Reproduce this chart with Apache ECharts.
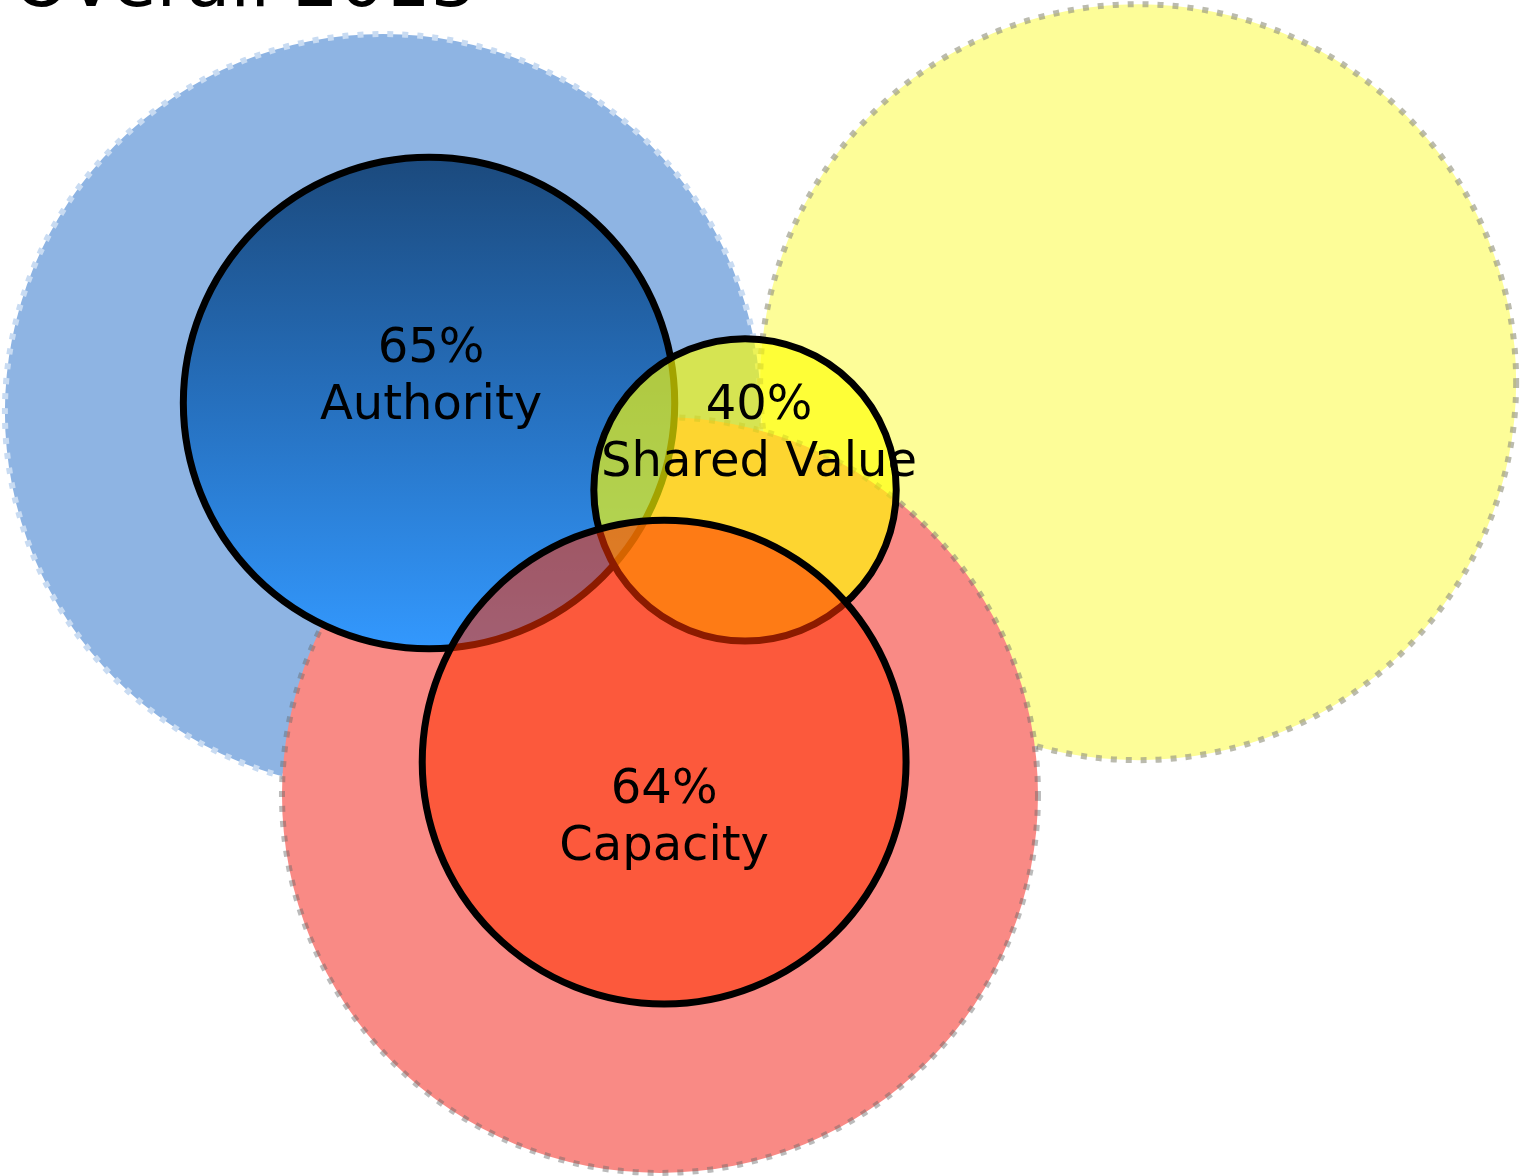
<!DOCTYPE html>
<html>
<head>
<meta charset="utf-8">
<script src="https://cdn.jsdelivr.net/npm/echarts@6/dist/echarts.min.js"></script>
<style>
  html, body { margin: 0; padding: 0; background: #ffffff; }
  #chart { width: 1521px; height: 1176px; }
</style>
</head>
<body>
<div id="chart"></div>
<script>
// Sizes are in percent: a circle's radius equals its score, the full group is 100.
const groups = ['Authority', 'Shared Value', 'Capacity'];
const scores = [65, 40, 64];
const groupCenterX = [113.5, 197.1, 175.7];
const groupCenterY = [106.6, 129.6, 201.6];

// Full-scale (100%) backdrop circles: blue, yellow, red
const backdropNames = ['Authority', 'Shared Value', 'Capacity'];
const backdropRadius = [100, 100, 100];
const backdropCenterX = [101.3, 301.1, 174.6];
const backdropCenterY = [109.0, 101.1, 210.3];

const titleText = 'Overall 2013';

// pixels per percent unit
const UNIT = 3.78;
const W = 1521, H = 1176;

const backdropStyles = [
  { fill: '#8EB4E3', stroke: '#C8DBF2' },
  { fill: '#FDFD98', stroke: 'rgba(150,150,130,0.65)' },
  { fill: '#F98A85', stroke: 'rgba(105,105,105,0.45)' }
];

const groupFills = [
  new echarts.graphic.LinearGradient(0, 0, 0, 1, [
    { offset: 0, color: '#1B497C' },
    { offset: 0.5, color: '#2670BE' },
    { offset: 1, color: '#3399FF' }
  ]),
  'rgba(255,255,0,0.64)',
  'rgba(255,50,0,0.55)'
];
// label block offsets from each circle centre, px
const labelShift = [[2, -25], [14, -55], [0, 57]];

const backdropData = backdropRadius.map((r, i) => [backdropCenterX[i], backdropCenterY[i], r]);
const groupData = scores.map((s, i) => [groupCenterX[i], groupCenterY[i], s]);

function renderBackdrop(params, api) {
  const i = params.dataIndex;
  const c = api.coord([api.value(0), api.value(1)]);
  const r = api.size([api.value(2), 0])[0];
  return {
    type: 'circle',
    shape: { cx: c[0], cy: c[1], r: r },
    style: {
      fill: backdropStyles[i].fill,
      stroke: backdropStyles[i].stroke,
      lineWidth: 6,
      lineDash: [6, 9]
    }
  };
}

function renderGroup(params, api) {
  const i = params.dataIndex;
  const c = api.coord([api.value(0), api.value(1)]);
  const r = api.size([api.value(2), 0])[0];
  return {
    type: 'group',
    children: [
      {
        type: 'circle',
        shape: { cx: c[0], cy: c[1], r: r },
        style: { fill: groupFills[i], stroke: '#000000', lineWidth: 7 }
      },
      {
        type: 'text',
        x: c[0] + labelShift[i][0],
        y: c[1] + labelShift[i][1],
        style: {
          text: api.value(2) + '%\n' + groups[i],
          fill: '#000000',
          fontFamily: 'DejaVu Sans',
          fontSize: 48,
          lineHeight: 57,
          align: 'center',
          verticalAlign: 'middle'
        }
      }
    ]
  };
}

const chart = echarts.init(document.getElementById('chart'), null, { renderer: 'canvas' });
chart.setOption({
  animation: false,
  backgroundColor: '#ffffff',
  title: {
    text: titleText,
    left: 8,
    top: -54,
    textStyle: { fontFamily: 'DejaVu Sans', fontSize: 72, fontWeight: 'normal', color: '#000000' }
  },
  grid: { left: 0, right: 0, top: 0, bottom: 0 },
  xAxis: { type: 'value', min: 0, max: W / UNIT, show: false },
  yAxis: { type: 'value', min: 0, max: H / UNIT, inverse: true, show: false },
  series: [
    {
      name: 'Full scale',
      type: 'custom',
      silent: true,
      renderItem: renderBackdrop,
      data: backdropData,
      z: 1
    },
    {
      name: 'Score',
      type: 'custom',
      silent: true,
      renderItem: renderGroup,
      data: groupData,
      z: 2
    }
  ]
});
</script>
</body>
</html>
